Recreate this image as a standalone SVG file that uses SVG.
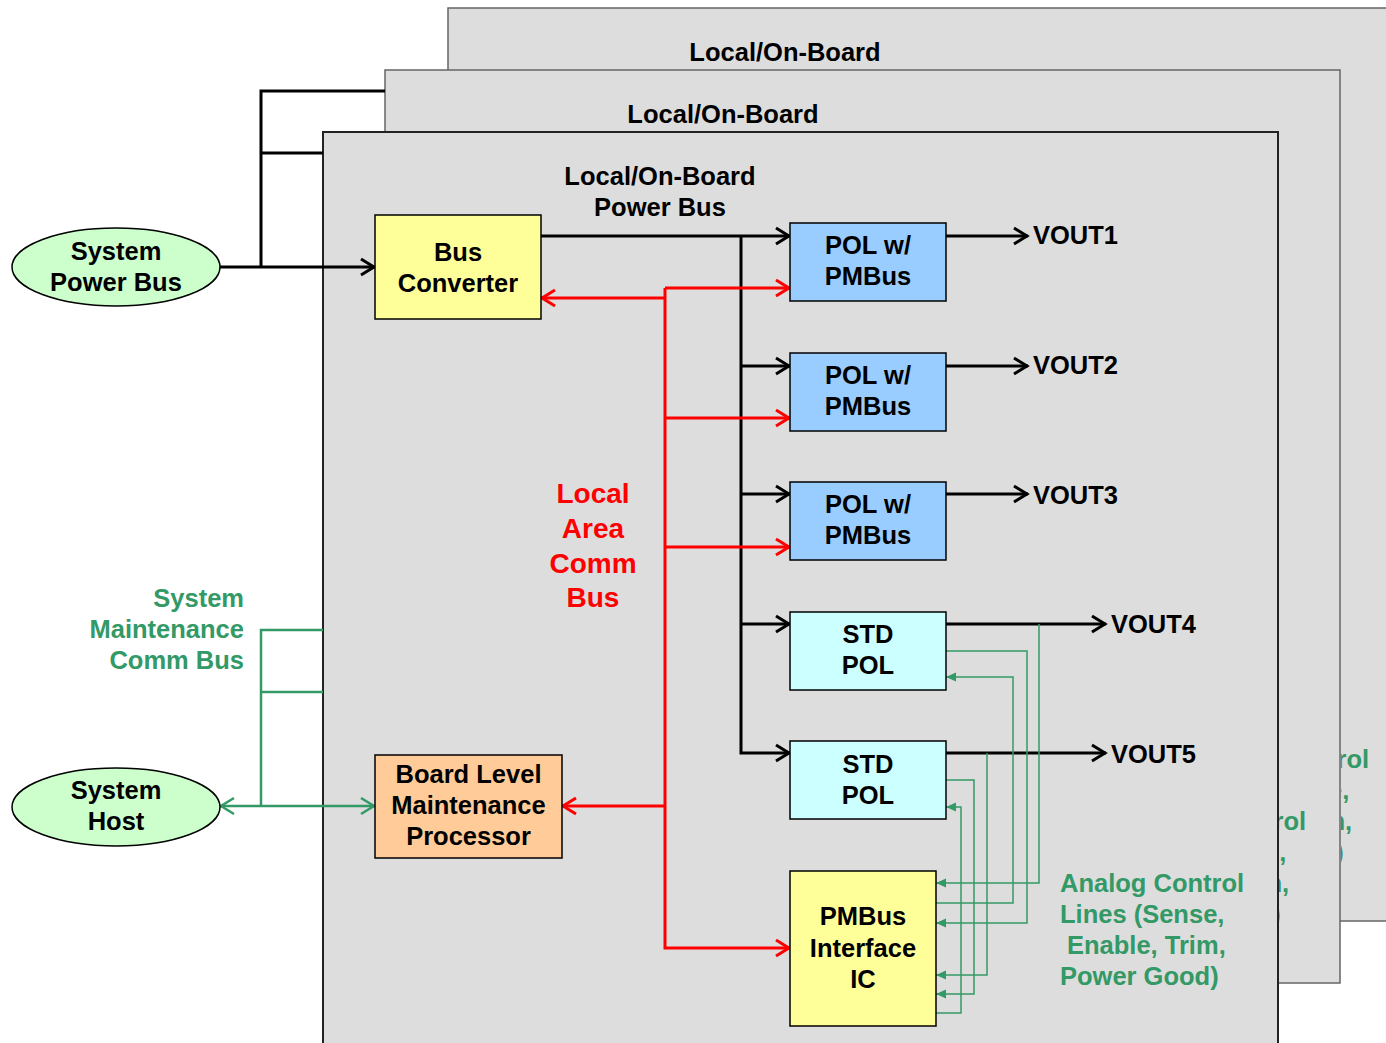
<svg xmlns="http://www.w3.org/2000/svg" width="1386" height="1043" viewBox="0 0 1386 1043">
<style>
  text { font-family: "Liberation Sans", Arial, Helvetica, sans-serif; font-weight: bold; font-size: 25.5px; text-anchor: middle; fill: #000; }
  .red { fill: #FF0000; font-size: 28px; }
  .grn { fill: #339966; }
  .lft { text-anchor: start; }
  .rgt { text-anchor: end; }
  .board { fill: #DDDDDD; stroke: #666666; stroke-width: 1.5; }
  .front { stroke: #222222; stroke-width: 2; }
  .box { stroke: #000; stroke-width: 1.5; }
  .pw { fill: none; stroke: #000; stroke-width: 3; }
  .lan { fill: none; stroke: #FF0000; stroke-width: 3; }
  .sm { fill: none; stroke: #339966; stroke-width: 2.5; }
  .an { fill: none; stroke: #339966; stroke-width: 1.5; }
</style>
<defs>
  <marker id="ah-k" markerUnits="userSpaceOnUse" markerWidth="18" markerHeight="18" viewBox="0 0 18 18" refX="16" refY="9" orient="auto" overflow="visible">
    <path d="M2,1 L15,9 L2,17" fill="none" stroke="#000" stroke-width="3"/>
  </marker>
  <marker id="ah-r" markerUnits="userSpaceOnUse" markerWidth="18" markerHeight="18" viewBox="0 0 18 18" refX="16" refY="9" orient="auto" overflow="visible">
    <path d="M2,1 L15,9 L2,17" fill="none" stroke="#FF0000" stroke-width="3"/>
  </marker>
  <marker id="ah-g" markerUnits="userSpaceOnUse" markerWidth="18" markerHeight="18" viewBox="0 0 18 18" refX="16" refY="9" orient="auto" overflow="visible">
    <path d="M2,1 L15,9 L2,17" fill="none" stroke="#339966" stroke-width="2.5"/>
  </marker>
  <marker id="ah-gs" markerUnits="userSpaceOnUse" markerWidth="11" markerHeight="10" viewBox="0 0 11 10" refX="10" refY="5" orient="auto" overflow="visible">
    <path d="M0,0.5 L10,5 L0,9.5 z" fill="#339966"/>
  </marker>
  <!-- strips of the rear boards left uncovered by the boards in front -->
  <clipPath id="rear-3-open"><rect x="1341" y="8" width="60" height="913"/></clipPath>
  <clipPath id="rear-2-open"><rect x="1279" y="70" width="61" height="913"/></clipPath>
</defs>

<!-- stacked boards, back to front -->
<g id="board-3">
  <rect class="board" x="448" y="8" width="950" height="913"/>
  <text x="785" y="61">Local/On-Board</text>
  <!-- line ends of the analog-line label that show past board 2 -->
  <g clip-path="url(#rear-3-open)">
    <text class="grn lft" x="1336.6" y="768">rol</text>
    <text class="grn lft" x="1328.1" y="799">e,</text>
    <text class="grn lft" x="1322.4" y="830">m,</text>
    <text class="grn lft" x="1335.2" y="861">)</text>
  </g>
</g>
<g id="board-2">
  <rect class="board" x="385" y="70" width="955" height="913"/>
  <text x="723" y="123">Local/On-Board</text>
  <!-- line ends of the analog-line label that show past board 1 -->
  <g clip-path="url(#rear-2-open)">
    <text class="grn lft" x="1273.6" y="830">rol</text>
    <text class="grn lft" x="1265.1" y="861">e,</text>
    <text class="grn lft" x="1259.4" y="892">m,</text>
    <text class="grn lft" x="1272.2" y="923">)</text>
  </g>
</g>
<g id="board-1">
  <rect class="board front" x="323" y="132" width="955" height="925"/>
  <text x="660" y="185">Local/On-Board</text>
  <text x="660" y="216">Power Bus</text>
  <text class="red" x="593" y="503">Local</text>
  <text class="red" x="593" y="538">Area</text>
  <text class="red" x="593" y="573">Comm</text>
  <text class="red" x="593" y="607">Bus</text>
  <text class="grn lft" x="1060" y="892">Analog Control</text>
  <text class="grn lft" x="1060" y="923">Lines (Sense,</text>
  <text class="grn lft" x="1067" y="954">Enable, Trim,</text>
  <text class="grn lft" x="1060" y="985">Power Good)</text>
</g>

<g id="maint-bus-label">
  <text class="grn rgt" x="244" y="607">System</text>
  <text class="grn rgt" x="244" y="638">Maintenance</text>
  <text class="grn rgt" x="244" y="669">Comm Bus</text>
</g>

<!-- connectors -->
<g id="connectors">
  <!-- system power bus -->
  <path class="pw" d="M220,267 H375" marker-end="url(#ah-k)"/>
  <path class="pw" d="M261,267 V91 H385"/>
  <path class="pw" d="M261,153 H323"/>
  <!-- local power bus -->
  <path class="pw" d="M541,236 H790" marker-end="url(#ah-k)"/>
  <path class="pw" d="M741,236 V753 H790" marker-end="url(#ah-k)"/>
  <path class="pw" d="M741,366 H790" marker-end="url(#ah-k)"/>
  <path class="pw" d="M741,494 H790" marker-end="url(#ah-k)"/>
  <path class="pw" d="M741,624 H790" marker-end="url(#ah-k)"/>
  <!-- outputs -->
  <path class="pw" d="M946,236 H1028" marker-end="url(#ah-k)"/>
  <path class="pw" d="M946,366 H1028" marker-end="url(#ah-k)"/>
  <path class="pw" d="M946,494 H1028" marker-end="url(#ah-k)"/>
  <path class="pw" d="M946,624 H1106" marker-end="url(#ah-k)"/>
  <path class="pw" d="M946,753 H1106" marker-end="url(#ah-k)"/>
  <!-- local area comm bus -->
  <path class="lan" d="M665,288 H790" marker-end="url(#ah-r)"/>
  <path class="lan" d="M665,288 V948 H790" marker-end="url(#ah-r)"/>
  <path class="lan" d="M665,298 H541" marker-end="url(#ah-r)"/>
  <path class="lan" d="M665,418 H790" marker-end="url(#ah-r)"/>
  <path class="lan" d="M665,547 H790" marker-end="url(#ah-r)"/>
  <path class="lan" d="M665,806 H562" marker-end="url(#ah-r)"/>
  <!-- system maintenance comm bus -->
  <path class="sm" d="M261,806 V630 H323"/>
  <path class="sm" d="M261,692 H323"/>
  <path class="sm" d="M261,806 H220" marker-end="url(#ah-g)"/>
  <path class="sm" d="M261,806 H375" marker-end="url(#ah-g)"/>
  <!-- analog control lines -->
  <path class="an" d="M1039,624 V883 H936" marker-end="url(#ah-gs)"/>
  <path class="an" d="M946,651 H1027 V923 H936" marker-end="url(#ah-gs)"/>
  <path class="an" d="M936,903 H1013 V677 H946" marker-end="url(#ah-gs)"/>
  <path class="an" d="M987,753 V975 H936" marker-end="url(#ah-gs)"/>
  <path class="an" d="M946,780 H974 V994 H936" marker-end="url(#ah-gs)"/>
  <path class="an" d="M936,1013 H961 V807 H946" marker-end="url(#ah-gs)"/>
</g>

<!-- nodes -->
<g id="system-power-bus">
  <ellipse class="box" cx="116" cy="267" rx="104" ry="39" fill="#CCFFCC"/>
  <text x="116" y="260">System</text>
  <text x="116" y="291">Power Bus</text>
</g>
<g id="system-host">
  <ellipse class="box" cx="116" cy="807" rx="104" ry="39" fill="#CCFFCC"/>
  <text x="116" y="799">System</text>
  <text x="116" y="830">Host</text>
</g>
<g id="bus-converter">
  <rect class="box" x="375" y="215" width="166" height="104" fill="#FFFF99"/>
  <text x="458" y="261">Bus</text>
  <text x="458" y="292">Converter</text>
</g>
<g id="pol-1">
  <rect class="box" x="790" y="223" width="156" height="78" fill="#99CCFF"/>
  <text x="868" y="254">POL w/</text>
  <text x="868" y="285">PMBus</text>
</g>
<g id="pol-2">
  <rect class="box" x="790" y="353" width="156" height="78" fill="#99CCFF"/>
  <text x="868" y="384">POL w/</text>
  <text x="868" y="415">PMBus</text>
</g>
<g id="pol-3">
  <rect class="box" x="790" y="482" width="156" height="78" fill="#99CCFF"/>
  <text x="868" y="513">POL w/</text>
  <text x="868" y="544">PMBus</text>
</g>
<g id="std-pol-1">
  <rect class="box" x="790" y="612" width="156" height="78" fill="#CCFFFF"/>
  <text x="868" y="643">STD</text>
  <text x="868" y="674">POL</text>
</g>
<g id="std-pol-2">
  <rect class="box" x="790" y="741" width="156" height="78" fill="#CCFFFF"/>
  <text x="868" y="773">STD</text>
  <text x="868" y="804">POL</text>
</g>
<g id="pmbus-interface-ic">
  <rect class="box" x="790" y="871" width="146" height="155" fill="#FFFF99"/>
  <text x="863" y="925">PMBus</text>
  <text x="863" y="957">Interface</text>
  <text x="863" y="988">IC</text>
</g>
<g id="board-maint-processor">
  <rect class="box" x="375" y="755" width="187" height="103" fill="#FFCC99"/>
  <text x="468.5" y="783">Board Level</text>
  <text x="468.5" y="814">Maintenance</text>
  <text x="468.5" y="845">Processor</text>
</g>

<g id="vout-labels">
  <text class="lft" x="1033" y="244">VOUT1</text>
  <text class="lft" x="1033" y="374">VOUT2</text>
  <text class="lft" x="1033" y="504">VOUT3</text>
  <text class="lft" x="1111" y="633">VOUT4</text>
  <text class="lft" x="1111" y="763">VOUT5</text>
</g>
</svg>
